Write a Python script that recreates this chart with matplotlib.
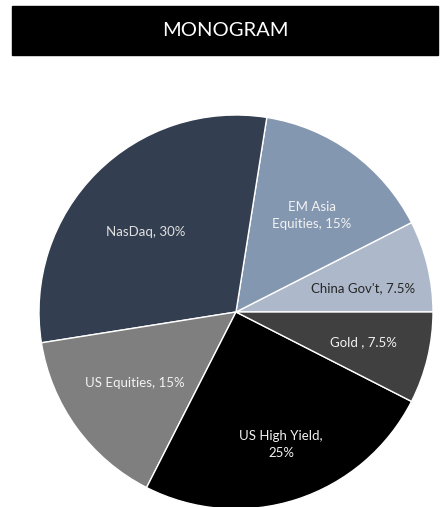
import numpy as np
import matplotlib.pyplot as plt
from matplotlib.patches import Rectangle

labels = ["China Gov't, 7.5%", "EM Asia\nEquities, 15%", "NasDaq, 30%",
          "US Equities, 15%", "US High Yield,\n25%", "Gold , 7.5%"]
shares = [7.5, 15, 30, 15, 25, 7.5]
colors = ["#adb9ca", "#8497b0", "#333f50", "#7f7f7f", "#000000", "#404040"]
text_colors = ["#262626", "#f2f2f2", "#e0e0e0", "#f2f2f2", "#f2f2f2", "#f2f2f2"]
# label placement (polar, relative to pie)
label_ang = [10.7, 51.8, 138.4, 215.1, 288.8, 346.8]
label_dist = [0.656, 0.623, 0.61, 0.627, 0.71, 0.667]

plt.rcParams['font.family'] = ['Lato', 'DejaVu Sans']

fig = plt.figure(figsize=(4.41, 5.07), dpi=100)
ax = fig.add_axes([0, 0, 1, 1])

cx, cy, r = 236, 507 - 312, 197
wedges, _ = ax.pie(shares, colors=colors, startangle=0, counterclock=True,
                   center=(cx, cy), radius=r, frame=True,
                   wedgeprops=dict(edgecolor='white', linewidth=1))
ax.set_xlim(0, 441)
ax.set_ylim(0, 507)
ax.set_aspect('equal')
ax.axis('off')

for lab, tc, a, d in zip(labels, text_colors, label_ang, label_dist):
    ang = np.deg2rad(a)
    ax.text(cx + d * r * np.cos(ang), cy + d * r * np.sin(ang), lab,
            ha='center', va='center', color=tc, fontsize=9.5, linespacing=1.45)

# title bar
ax.add_patch(Rectangle((12, 507 - 55), 426, 49, color='black', zorder=5))
ax.text(225, 507 - 31, "MONOGRAM", ha='center', va='center', color='white',
        fontsize=14.5, zorder=6)

fig.savefig("out.png", dpi=100)
